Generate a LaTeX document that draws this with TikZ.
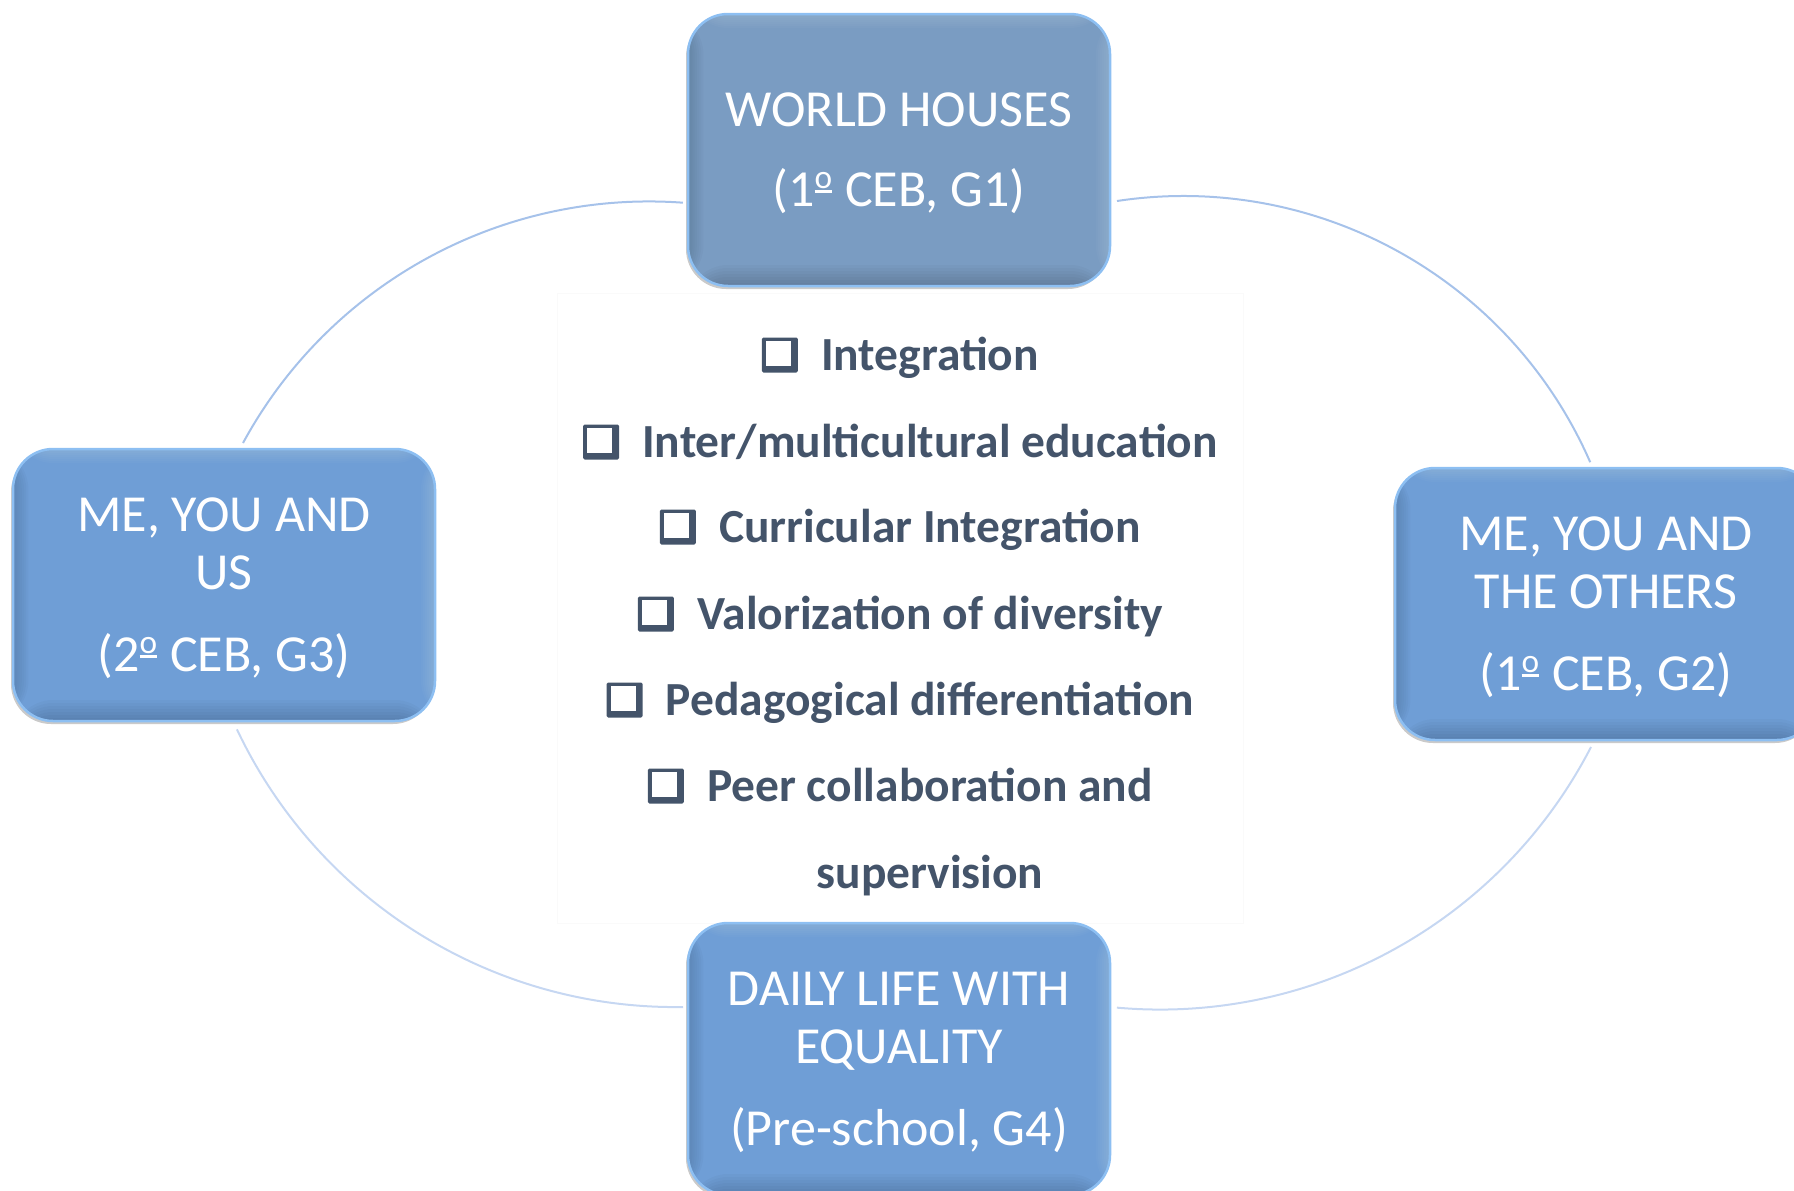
\documentclass[tikz,border=0pt]{standalone}
\usepackage{fontspec}
\usepackage{graphicx}
\setmainfont{Carlito}
\usetikzlibrary{shadows}

\definecolor{hubtop}{HTML}{7A9CC2}
\definecolor{hubfill}{HTML}{6F9ED6}
\definecolor{hubedge}{HTML}{8DBFF2}
\definecolor{slate}{HTML}{44546A}
\definecolor{ringline}{HTML}{A6C2EA}
\definecolor{ringlight}{HTML}{C6D7F2}

% underlined masculine ordinal indicator
\newcommand{\ordmasc}{\rlap{\rule[0.27em]{0.34em}{0.045em}}\raisebox{0.36em}{\scalebox{0.64}{o}}\kern0.02em}

\begin{document}
\begin{tikzpicture}[x=1pt,y=-1pt,
  hub/.style={rounded corners=40pt, minimum width=422pt, minimum height=272pt,
    inner sep=0pt, fill=#1, draw=hubedge, line width=2.5pt,
    drop shadow={shadow xshift=-2pt, shadow yshift=-3pt, opacity=0.35, fill=black!60},
    path picture={
      % bevel: darker bands at bottom and left, lighter bands at top and right
      \foreach \k in {1,...,7}{
        \fill[black, opacity=0.022]
          (path picture bounding box.south west) rectangle ([yshift=\k*3pt]path picture bounding box.south east);
        \fill[black, opacity=0.018]
          (path picture bounding box.south west) rectangle ([xshift=\k*2.2pt]path picture bounding box.north west);
        \fill[white, opacity=0.025]
          (path picture bounding box.south east) rectangle ([xshift=-\k*2pt]path picture bounding box.north east);
        \fill[white, opacity=0.022]
          (path picture bounding box.north west) rectangle ([yshift=-\k*2pt]path picture bounding box.north east);
      }
    }},
  hub/.default=hubfill,
  hubtext/.style={inner sep=0pt, text=white, align=center, font=\fontsize{52}{58}\selectfont},
  ring/.style={draw=ringline, line width=2pt},
  ringsoft/.style={draw=ringlight, line width=2pt},
  item/.style={anchor=base, inner sep=0pt, text=slate,
    font=\fontsize{47.5}{56}\selectfont\bfseries},
  frame/.style={draw=black!1.8, line width=1pt, minimum width=686pt, minimum height=630pt}
]
\useasboundingbox (0,0) rectangle (1794,1191);
\clip (0,0) rectangle (1794,1191);

% end points of the four arcs of the cycle
\coordinate (tlA) at (243,443);
\coordinate (trA) at (1117,201);
\coordinate (brA) at (1591,747);
\coordinate (blA) at (683,1007);

% cycle arcs
\draw[ring] (tlA) arc[start angle=-151.5, end angle=-85.8, radius=462];
\draw[ring] (trA) arc[start angle=-98.6, end angle=-23.6, radius=444];
\draw[ringsoft] (brA) arc[start angle=27.3, end angle=95.1, radius=485];
\draw[ringsoft] (blA) arc[start angle=89.1, end angle=154.7, radius=485];

% faint frame of the central list
\node[frame] (listframe) at (900,608) {};

% the four stages
\node[hub=hubtop] (g1) at (899,150) {};
\node[hub] (g2) at (1606,604) {};
\node[hub] (g3) at (224,585) {};
\node[hub] (g4) at (899,1059) {};

\node[hubtext] (g1t) at ([yshift=-3.5pt]g1.center) {WORLD HOUSES\\[22pt](1\ordmasc{} CEB, G1)};
\node[hubtext] (g2t) at ([yshift=-3.5pt]g2.center) {ME, YOU AND\\THE OTHERS\\[24pt](1\ordmasc{} CEB, G2)};
\node[hubtext] (g3t) at ([yshift=-3.5pt]g3.center) {ME, YOU AND\\US\\[24pt](2\ordmasc{} CEB, G3)};
\node[hubtext] (g4t) at ([yshift=-3pt]g4.center) {DAILY LIFE WITH\\EQUALITY\\[24pt](Pre-school, G4)};

% central list
\node[item] (l1) at (930,370.5) {Integration};
\node[item] (l2) at (930,457.5) {Inter/multicultural education};
\node[item] (l3) at (930,542.5) {Curricular Integration};
\node[item] (l4) at (930,629.5) {Valorization of diversity};
\node[item] (l5) at (930,715.5) {Pedagogical differentiation};
\node[item] (l6) at (930,801.5) {Peer collaboration and};
\node[item] (l7) at (930,888.5) {supervision};

% shadowed check boxes in front of the items
\foreach \n in {l1,l2,l3,l4,l5,l6}{
  \fill[slate, rounded corners=1.5pt] ([xshift=-59pt,yshift=-2pt]\n.base west) rectangle ++(36pt,35pt);
  \fill[white] ([xshift=-55pt,yshift=5pt]\n.base west) rectangle ++(25pt,25pt);
}
\end{tikzpicture}
\end{document}
